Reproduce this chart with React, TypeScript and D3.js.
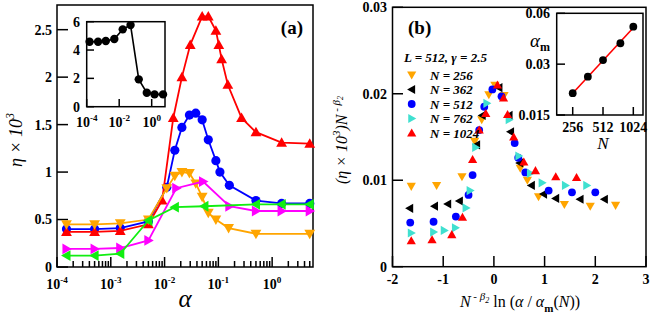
import React, { useEffect, useRef } from 'react';
import * as d3 from 'd3';

// ---- panel (a): eta x 10^3 against alpha ----
const alphaBlue = [1.5e-4, 5e-4, 1.5e-3, 5e-3, 0.011, 0.0155, 0.021, 0.029, 0.038, 0.05, 0.065, 0.09, 0.107, 0.16, 0.5, 1.5, 5];
const etaBlue = [0.40, 0.40, 0.41, 0.48, 0.84, 1.23, 1.47, 1.60, 1.62, 1.55, 1.34, 1.12, 1.00, 0.86, 0.70, 0.67, 0.67];

const alphaRed = [1.5e-4, 5e-4, 1.5e-3, 5e-3, 0.009, 0.0145, 0.021, 0.03, 0.05, 0.065, 0.09, 0.102, 0.115, 0.15, 0.27, 0.5, 1.5, 5];
const etaRed = [0.37, 0.37, 0.38, 0.45, 0.70, 1.57, 2.00, 2.34, 2.64, 2.64, 2.49, 2.34, 2.19, 1.92, 1.57, 1.42, 1.31, 1.30];

const alphaOrange = [1.5e-4, 5e-4, 1.5e-3, 5e-3, 0.011, 0.0155, 0.021, 0.029, 0.038, 0.05, 0.065, 0.09, 0.155, 0.5, 5];
const etaOrange = [0.45, 0.45, 0.46, 0.50, 0.83, 0.96, 1.00, 0.99, 0.88, 0.74, 0.57, 0.50, 0.41, 0.35, 0.35];

const alphaMagenta = [1.5e-4, 5e-4, 1.5e-3, 5e-3, 0.0165, 0.052, 0.16, 0.5, 1.5, 5];
const etaMagenta = [0.19, 0.19, 0.20, 0.28, 0.83, 0.90, 0.64, 0.59, 0.59, 0.59];

const alphaGreen = [1.5e-4, 5e-4, 1.5e-3, 5e-3, 0.0155, 0.055, 0.5, 1.5, 5];
const etaGreen = [0.12, 0.12, 0.14, 0.49, 0.63, 0.64, 0.66, 0.66, 0.66];

const alphaInset = [1.5e-4, 5e-4, 1.5e-3, 5e-3, 0.0165, 0.05, 0.16, 0.5, 1.5, 5];
const etaInset = [4.59, 4.59, 4.64, 4.78, 5.46, 5.76, 1.93, 0.99, 0.87, 0.87];

const aYTicks = [0, 0.5, 1, 1.5, 2, 2.5];
const aXPowers = [-4, -3, -2, -1, 0];
const insetAYTicks = [0, 2, 4, 6];
const insetAXPowers = [-4, -2, 0];

// ---- panel (b): scaled data collapse ----
const x256 = [-1.63, -1.13, -0.63, -0.38, -0.24, -0.10, 0.02, 0.20, 0.52, 0.66, 0.88, 1.39, 1.90, 2.40];
const y256 = [0.0093, 0.0094, 0.0104, 0.0145, 0.0170, 0.0199, 0.0210, 0.0198, 0.0114, 0.0100, 0.0081, 0.0072, 0.0070, 0.0071];

const x362 = [-1.66, -1.17, -0.91, -0.68, -0.34, -0.23, 0.10, 0.30, 0.33, 0.51, 0.74, 0.98, 1.22, 1.70, 2.18];
const y362 = [0.00675, 0.0070, 0.00725, 0.0076, 0.0141, 0.0175, 0.0207, 0.0175, 0.0156, 0.0120, 0.0094, 0.0084, 0.0079, 0.0078, 0.0078];

const x512 = [-1.65, -1.19, -0.75, -0.50, -0.42, -0.29, -0.19, -0.03, 0.15, 0.41, 0.48, 0.62, 1.08, 1.54, 2.0];
const y512 = [0.0051, 0.0052, 0.0058, 0.0083, 0.0106, 0.0158, 0.0185, 0.0205, 0.0197, 0.0143, 0.0126, 0.0109, 0.0088, 0.0086, 0.0086];

const x762 = [-1.63, -1.19, -0.98, -0.76, -0.55, -0.47, -0.36, -0.14, 0.30, 0.49, 0.72, 0.95, 1.41, 1.83];
const y762 = [0.0039, 0.0040, 0.0042, 0.0045, 0.0068, 0.0088, 0.0138, 0.0189, 0.0170, 0.0128, 0.0108, 0.0097, 0.0094, 0.0094];

const x1024 = [-1.63, -1.22, -0.83, -0.62, -0.42, -0.29, -0.16, 0.07, 0.19, 0.27, 0.39, 0.59, 0.82, 1.22, 1.63];
const y1024 = [0.0030, 0.0031, 0.0037, 0.0057, 0.0124, 0.0158, 0.0177, 0.0210, 0.0195, 0.0176, 0.0150, 0.0121, 0.0111, 0.0104, 0.0103];

const legendN = ['256', '362', '512', '762', '1024'];
const nValues = [256, 362, 512, 762, 1024];
const alphaM = [0.0202, 0.0253, 0.0317, 0.0399, 0.050];

const bXTicks = [-2, -1, 0, 1, 2, 3];
const bYTicks = [0, 0.01, 0.02, 0.03];
const insetBXTicks = [256, 512, 1024];
const insetBYTicks = [0.015, 0.03, 0.06];

const FONT = '"Liberation Serif", "Times New Roman", serif';

// triangle paths centred on 0,0, s = half width
const tri = (dir: string, s: number) => {
  const b = s * 0.75;
  if (dir === 'up') return `M0,${-s}L${s},${b}L${-s},${b}Z`;
  if (dir === 'down') return `M0,${s}L${s},${-b}L${-s},${-b}Z`;
  if (dir === 'left') return `M${-s},0L${b},${-s}L${b},${s}Z`;
  return `M${s},0L${-b},${-s}L${-b},${s}Z`;
};

const App = () => {
  const svgRef = useRef<SVGSVGElement>(null);

  useEffect(() => {
    const svg = d3.select(svgRef.current);
    svg.selectAll('*').remove();
    svg.append('rect').attr('width', 654).attr('height', 321).attr('fill', '#fff');

    const symbol = (g: any, kind: string, x: number, y: number, s: number, color: string) => {
      if (kind === 'circle') {
        g.append('circle').attr('cx', x).attr('cy', y).attr('r', s).attr('fill', color);
      } else {
        g.append('path').attr('d', tri(kind, s)).attr('transform', `translate(${x},${y})`).attr('fill', color);
      }
    };

    const tick = (g: any, x1: number, y1: number, x2: number, y2: number) => {
      g.append('line')
        .attr('x1', x1).attr('y1', y1).attr('x2', x2).attr('y2', y2)
        .attr('stroke', '#000').attr('stroke-width', 1.5);
    };

    const frame = (g: any, x0: number, y0: number, x1: number, y1: number) => {
      g.append('rect')
        .attr('x', x0).attr('y', y0).attr('width', x1 - x0).attr('height', y1 - y0)
        .attr('fill', '#fff').attr('stroke', '#000').attr('stroke-width', 1.5);
    };

    const powLabel = (g: any, x: number, y: number, p: number, size: number) => {
      const t = g.append('text')
        .attr('x', x).attr('y', y).attr('text-anchor', 'middle')
        .attr('font-family', FONT).attr('font-weight', 'bold').attr('font-size', size);
      t.append('tspan').text('10');
      t.append('tspan').attr('dy', -size * 0.45).attr('font-size', size * 0.65).text(p < 0 ? '-' + Math.abs(p) : String(p));
    };

    // ================= panel (a) =================
    const xA = d3.scaleLog().domain([1e-4, 5.75]).range([57, 313]);
    const yA = d3.scaleLinear().domain([0, 2.76]).range([267, 5]);
    const gA = svg.append('g');
    frame(gA, 57, 5, 313, 267);

    // log ticks along the bottom, pointing inward
    for (let p = -4; p <= 0; p++) {
      for (let m = 1; m <= 9; m++) {
        const v = m * 10 ** p;
        if (v > xA.domain()[1]) continue;
        const len = m === 1 ? 10 : 6;
        tick(gA, xA(v), 267, xA(v), 267 - len);
      }
    }
    aXPowers.forEach((p) => powLabel(gA, xA(10 ** p), 289, p, 14));

    aYTicks.forEach((v) => {
      tick(gA, 57, yA(v), 68, yA(v));
      gA.append('text')
        .attr('x', 52).attr('y', yA(v)).attr('dy', '0.35em').attr('text-anchor', 'end')
        .attr('font-family', FONT).attr('font-weight', 'bold').attr('font-size', 14)
        .text(String(v));
    });

    const seriesA = [
      { a: alphaBlue, e: etaBlue, color: '#0000ff', kind: 'circle', s: 4.6 },
      { a: alphaRed, e: etaRed, color: '#ff0000', kind: 'up', s: 5.4 },
      { a: alphaOrange, e: etaOrange, color: '#ffa500', kind: 'down', s: 5.4 },
      { a: alphaMagenta, e: etaMagenta, color: '#ff00ff', kind: 'right', s: 5.4 },
      { a: alphaGreen, e: etaGreen, color: '#11ee11', kind: 'left', s: 5.4 },
    ];
    const lineA = d3.line<number>().x((d) => d[0]).y((d) => d[1]);
    seriesA.forEach((s) => {
      const pts = s.a.map((a, i) => [xA(a), yA(s.e[i])]);
      gA.append('path').attr('d', lineA(pts as any)).attr('fill', 'none')
        .attr('stroke', s.color).attr('stroke-width', 1.8);
      pts.forEach((p) => symbol(gA, s.kind, p[0], p[1], s.s, s.color));
    });

    gA.append('text')
      .attr('x', 303).attr('y', 34).attr('text-anchor', 'end')
      .attr('font-family', FONT).attr('font-weight', 'bold').attr('font-size', 19)
      .text('(a)');

    gA.append('text')
      .attr('x', 185).attr('y', 307).attr('text-anchor', 'middle')
      .attr('font-family', FONT).attr('font-style', 'italic').attr('font-size', 25)
      .text('α');

    const yLabA = gA.append('text')
      .attr('transform', 'translate(22,140) rotate(-90)').attr('text-anchor', 'middle')
      .attr('font-family', FONT).attr('font-style', 'italic').attr('font-size', 18);
    yLabA.append('tspan').text('η × 10');
    yLabA.append('tspan').attr('dy', -8).attr('font-size', 12).text('3');

    // inset of panel (a)
    const xIA = d3.scaleLog().domain([1e-4, 6.6]).range([86.7, 165]);
    const yIA = d3.scaleLinear().domain([0, 6]).range([106.7, 21.7]);
    frame(gA, 86.7, 21.7, 165, 106.7);
    insetAXPowers.forEach((p) => {
      tick(gA, xIA(10 ** p), 106.7, xIA(10 ** p), 99);
      powLabel(gA, xIA(10 ** p), 127, p, 14);
    });
    insetAYTicks.forEach((v) => {
      tick(gA, 86.7, yIA(v), 94, yIA(v));
      gA.append('text')
        .attr('x', 80).attr('y', yIA(v)).attr('dy', '0.35em').attr('text-anchor', 'end')
        .attr('font-family', FONT).attr('font-weight', 'bold').attr('font-size', 14)
        .text(String(v));
    });
    const insetPts = alphaInset.map((a, i) => [xIA(a), yIA(etaInset[i])]);
    gA.append('path').attr('d', lineA(insetPts as any)).attr('fill', 'none')
      .attr('stroke', '#000').attr('stroke-width', 1.6);
    insetPts.forEach((p) => symbol(gA, 'circle', p[0], p[1], 4.2, '#000'));

    // ================= panel (b) =================
    const xB = d3.scaleLinear().domain([-2, 3]).range([392.5, 646]);
    const yB = d3.scaleLinear().domain([0, 0.03]).range([266.7, 7.3]);
    const gB = svg.append('g');
    frame(gB, 392.5, 7.3, 646, 266.7);

    bXTicks.forEach((v) => {
      tick(gB, xB(v), 266.7, xB(v), 256);
      gB.append('text')
        .attr('x', xB(v)).attr('y', 284).attr('text-anchor', 'middle')
        .attr('font-family', FONT).attr('font-weight', 'bold').attr('font-size', 14)
        .text(String(v));
    });
    bYTicks.forEach((v) => {
      tick(gB, 392.5, yB(v), 403, yB(v));
      gB.append('text')
        .attr('x', 387).attr('y', yB(v)).attr('dy', '0.35em').attr('text-anchor', 'end')
        .attr('font-family', FONT).attr('font-weight', 'bold').attr('font-size', 14)
        .text(String(v));
    });

    const seriesB = [
      { x: x256, y: y256, color: '#ffa500', kind: 'down' },
      { x: x362, y: y362, color: '#000000', kind: 'left' },
      { x: x512, y: y512, color: '#0000ff', kind: 'circle' },
      { x: x762, y: y762, color: '#40e0d0', kind: 'right' },
      { x: x1024, y: y1024, color: '#ff0000', kind: 'up' },
    ];
    seriesB.forEach((s) => {
      s.x.forEach((xv, i) => symbol(gB, s.kind, xB(xv), yB(s.y[i]), s.kind === 'circle' ? 3.9 : 4.6, s.color));
    });

    // legend
    gB.append('text')
      .attr('x', 404).attr('y', 62)
      .attr('font-family', FONT).attr('font-style', 'italic').attr('font-weight', 'bold').attr('font-size', 13)
      .text('L = 512, γ = 2.5');
    seriesB.forEach((s, i) => {
      const cy = 75 + i * 14.5;
      symbol(gB, s.kind, 411.7, cy, s.kind === 'circle' ? 3.9 : 4.6, s.color);
      gB.append('text')
        .attr('x', 430).attr('y', cy + 4.5)
        .attr('font-family', FONT).attr('font-style', 'italic').attr('font-weight', 'bold').attr('font-size', 13)
        .text(`N = ${legendN[i]}`);
    });

    gB.append('text')
      .attr('x', 408).attr('y', 34)
      .attr('font-family', FONT).attr('font-weight', 'bold').attr('font-size', 19)
      .text('(b)');

    // x label of (b)
    const xLabB = gB.append('text')
      .attr('x', 520).attr('y', 307).attr('text-anchor', 'middle')
      .attr('font-family', FONT).attr('font-size', 16);
    xLabB.append('tspan').attr('font-style', 'italic').text('N');
    xLabB.append('tspan').attr('dy', -7).attr('font-size', 11).text(' - ');
    xLabB.append('tspan').attr('font-style', 'italic').attr('font-size', 11).text('β');
    xLabB.append('tspan').attr('dy', 3).attr('font-size', 8).attr('font-style', 'italic').text('2');
    xLabB.append('tspan').attr('dy', 4).text(' ln (');
    xLabB.append('tspan').attr('font-style', 'italic').text('α');
    xLabB.append('tspan').text(' / ');
    xLabB.append('tspan').attr('font-style', 'italic').text('α');
    xLabB.append('tspan').attr('dy', 5).attr('font-size', 11).attr('font-weight', 'bold').text('m');
    xLabB.append('tspan').attr('dy', -5).text('(');
    xLabB.append('tspan').attr('font-style', 'italic').text('N');
    xLabB.append('tspan').text('))');

    // y label of (b)
    const yLabB = gB.append('text')
      .attr('transform', 'translate(347,140) rotate(-90)').attr('text-anchor', 'middle')
      .attr('font-family', FONT).attr('font-style', 'italic').attr('font-size', 16);
    yLabB.append('tspan').text('(η × 10');
    yLabB.append('tspan').attr('dy', -7).attr('font-size', 11).text('3');
    yLabB.append('tspan').attr('dy', 7).text(')N');
    yLabB.append('tspan').attr('dy', -7).attr('font-size', 11).text(' - β');
    yLabB.append('tspan').attr('dy', 3).attr('font-size', 8).text('2');

    // inset of panel (b)
    const xIB = d3.scaleLog().base(2).domain([177.5, 1278]).range([556.7, 643]);
    const yIB = d3.scaleLog().domain([0.015, 0.06]).range([115, 13.3]);
    frame(gB, 556.7, 13.3, 643, 115);
    insetBXTicks.forEach((v) => {
      tick(gB, xIB(v), 115, xIB(v), 107);
      gB.append('text')
        .attr('x', xIB(v)).attr('y', 132).attr('text-anchor', 'middle')
        .attr('font-family', FONT).attr('font-weight', 'bold').attr('font-size', 14)
        .text(String(v));
    });
    insetBYTicks.forEach((v) => {
      tick(gB, 556.7, yIB(v), 565, yIB(v));
      gB.append('text')
        .attr('x', 550).attr('y', yIB(v)).attr('dy', '0.35em').attr('text-anchor', 'end')
        .attr('font-family', FONT).attr('font-weight', 'bold').attr('font-size', 14)
        .text(String(v));
    });

    // least-squares power-law fit through alpha_m(N)
    const lx = nValues.map((n) => Math.log(n));
    const ly = alphaM.map((a) => Math.log(a));
    const mx = d3.mean(lx) as number;
    const my = d3.mean(ly) as number;
    const slope = d3.sum(lx.map((v, i) => (v - mx) * (ly[i] - my))) / d3.sum(lx.map((v) => (v - mx) ** 2));
    const fit = (n: number) => Math.exp(my + slope * (Math.log(n) - mx));
    gB.append('line')
      .attr('x1', xIB(nValues[0])).attr('y1', yIB(fit(nValues[0])))
      .attr('x2', xIB(nValues[4])).attr('y2', yIB(fit(nValues[4])))
      .attr('stroke', '#ff0000').attr('stroke-width', 1.6);
    nValues.forEach((n, i) => symbol(gB, 'circle', xIB(n), yIB(alphaM[i]), 3.9, '#000'));

    const amLab = gB.append('text')
      .attr('x', 530).attr('y', 47)
      .attr('font-family', FONT).attr('font-size', 19);
    amLab.append('tspan').attr('font-style', 'italic').text('α');
    amLab.append('tspan').attr('dy', 4).attr('font-size', 12).attr('font-weight', 'bold').text('m');

    gB.append('text')
      .attr('x', 603).attr('y', 149).attr('text-anchor', 'middle')
      .attr('font-family', FONT).attr('font-style', 'italic').attr('font-size', 17)
      .text('N');
  }, []);

  return (
    <svg
      ref={svgRef}
      width={654}
      height={321}
      style={{ position: 'absolute', left: 0, top: 0 }}
    ></svg>
  );
};

export default App;
